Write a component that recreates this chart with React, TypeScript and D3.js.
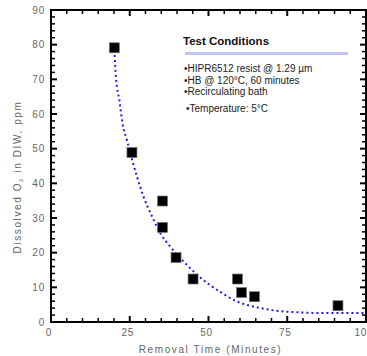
import * as d3 from 'd3'

const width = 367
const height = 356

const margin = { top: 10, right: 1, bottom: 34, left: 51 }

// measured points (removal time, dissolved O2)
const timeValues = [20.1, 25.7, 35.4, 35.4, 39.7, 45.1, 59.2, 60.5, 64.6, 91.1]
const o2Values = [79.1, 48.9, 34.9, 27.3, 18.6, 12.4, 12.4, 8.5, 7.3, 4.7]

// fitted curve
const fitTime = [20.1, 20.6, 21.7, 22.7, 24.1, 25.5, 27.3, 29.4, 32.1, 34.7, 37.9, 43.2, 46.4, 50.1, 54.4, 58.1, 62.3, 66.6, 71.9, 78.2, 85.7, 99.5]
const fitO2 = [78.5, 70.8, 64.0, 57.3, 52.5, 47.7, 41.9, 36.1, 30.4, 25.6, 21.7, 16.4, 13.6, 10.9, 8.3, 6.3, 4.9, 4.0, 3.2, 2.8, 2.6, 2.6]

const xTicks = [0, 25, 50, 75, 100]
const yTicks = [0, 10, 20, 30, 40, 50, 60, 70, 80, 90]

const notes = [
  '•HIPR6512 resist @ 1.29 µm',
  '•HB @ 120°C, 60 minutes',
  '•Recirculating bath',
]
const lastNote = '•Temperature: 5°C'

const font = "'Liberation Sans', Arial, sans-serif"
const labelColor = '#666'

function App() {
  const x = d3.scaleLinear().domain([0, 100]).range([margin.left, width - margin.right])
  const y = d3.scaleLinear().domain([0, 90]).range([height - margin.bottom, margin.top])

  const x0 = x(0), x1 = x(100), y0 = y(0), y1 = y(90)

  const xMinor = d3.range(0, 101, 5)
  const yMinor = d3.range(0, 91, 2)

  const line = d3.line<number>()
    .x((_, i) => x(fitTime[i]))
    .y((d) => y(d))
    .curve(d3.curveMonotoneX)

  const sq = 10

  return (
    <svg width={width} height={height} style={{ position: 'absolute', left: 0, top: 0 }} fontFamily={font}>
      <rect width={width} height={height} fill="white" />

      {/* ticks, mirrored on all four sides, pointing inward */}
      <g stroke="black">
        {xMinor.map((v) => {
          const big = v % 25 === 0
          const len = big ? 6 : 4
          return (
            <g key={'x' + v} strokeWidth={big ? 2 : 1.5}>
              <line x1={x(v)} x2={x(v)} y1={y0} y2={y0 - len} />
              <line x1={x(v)} x2={x(v)} y1={y1} y2={y1 + len} />
            </g>
          )
        })}
        {yMinor.map((v) => {
          const big = v % 10 === 0
          const len = big ? 6 : 4
          return (
            <g key={'y' + v} strokeWidth={big ? 2 : 1.5}>
              <line x1={x0} x2={x0 + len} y1={y(v)} y2={y(v)} />
              <line x1={x1} x2={x1 - len} y1={y(v)} y2={y(v)} />
            </g>
          )
        })}
        <rect x={x0} y={y1} width={x1 - x0} height={y0 - y1} fill="none" strokeWidth={2} />
      </g>

      {/* tick labels */}
      <g fill={labelColor} fontSize={10} letterSpacing={0.8}>
        {yTicks.map((v) => (
          <text key={v} x={x0 - 6} y={y(v) + 3.5} textAnchor="end">{v}</text>
        ))}
        {xTicks.map((v) => (
          <text key={v} x={x(v) - 2} y={y0 + 14} textAnchor="middle">{v}</text>
        ))}
      </g>

      {/* axis titles */}
      <text x={(x0 + x1) / 2 + 2} y={353} textAnchor="middle" fontSize={10} fill={labelColor} letterSpacing={1.6}>
        Removal Time (Minutes)
      </text>
      <text transform={`translate(21,${177}) rotate(-90)`} textAnchor="middle" fontSize={10} fill={labelColor} letterSpacing={1.6}>
        Dissolved O<tspan fontSize={6} dy={2}>2</tspan><tspan dy={-2}> in DIW, ppm</tspan>
      </text>

      {/* fitted curve */}
      <path d={line(fitO2) || ''} fill="none" stroke="#1f1fe8" strokeWidth={2} strokeDasharray="2,3" />

      {/* data points */}
      {timeValues.map((t, i) => (
        <rect
          key={i}
          x={x(t) - sq / 2}
          y={y(o2Values[i]) - sq / 2}
          width={sq}
          height={sq}
          fill="black"
          stroke="#777"
          strokeWidth={0.7}
        />
      ))}

      {/* annotation */}
      <text x={183} y={45} fontSize={11.5} fontWeight="bold" fill="#111">Test Conditions</text>
      <rect x={185} y={52} width={163} height={3} fill="#c4c4f4" />
      <g fontSize={10} fill="#222">
        {notes.map((n, i) => (
          <text key={i} x={184} y={72 + i * 11.5}>{n}</text>
        ))}
        <text x={186} y={112}>{lastNote}</text>
      </g>
    </svg>
  )
}

export default App
